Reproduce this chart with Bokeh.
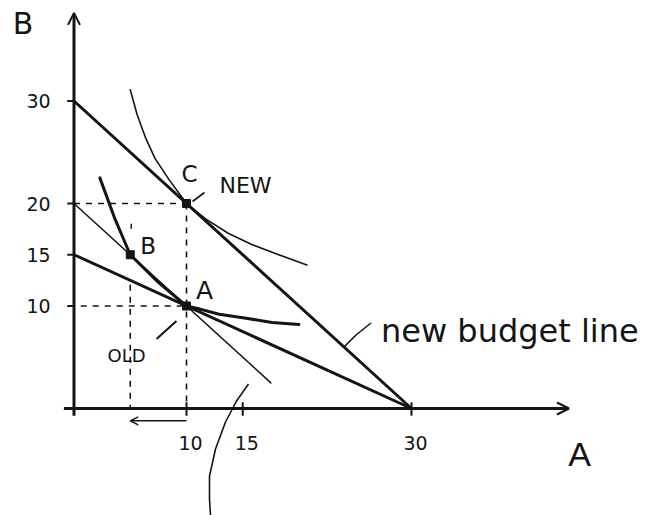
from bokeh.plotting import figure
from bokeh.models import Range1d, Arrow, OpenHead
from bokeh.core.properties import value
from bokeh.embed import file_html
from bokeh.resources import INLINE

# ---- chart values -------------------------------------------------------
x_ticks = [10, 15, 30]
x_tick_labels = ["10", "15", "30"]
y_ticks = [10, 15, 20, 30]
y_tick_labels = ["10", "15", "20", "30"]

# budget lines (end points on the two axes)
old_budget_a = [0, 30]
old_budget_b = [15, 0]
new_budget_a = [0, 30]
new_budget_b = [30, 0]
# compensated budget line through B and A
comp_budget_a = [0, 17.5]
comp_budget_b = [20, 2.5]

# indifference curves
old_ic_a = [2.3, 3.6, 5.0, 7.5, 10.0, 11.2, 12.9, 15.3, 17.6, 20.0]
old_ic_b = [22.5, 18.6, 15.0, 12.3, 10.0, 9.7, 9.2, 8.8, 8.4, 8.2]
new_ic_a = [5.0, 5.6, 6.4, 7.2, 8.4, 10.0, 11.7, 13.7, 15.8, 18.2, 20.7]
new_ic_b = [31.1, 28.7, 26.3, 24.4, 22.4, 20.0, 18.5, 17.1, 16.0, 15.0, 14.0]

# consumption bundles
bundle_names = ["C", "B", "A"]
bundle_a = [10, 5, 10]
bundle_b = [20, 15, 10]

# ---- layout ---------------------------------------------------------------
W, H = 646, 515
XS, YS = 11.25, 10.25        # pixels per unit of A and of B
X0, Y0 = 73.5, 408.0         # pixel position of the origin
INK = "#141414"


def nudge(a, b, dx, dy):
    """Move a data point by a screen offset in pixels (dy positive = up)."""
    return a + dx / XS, b + dy / YS


p = figure(width=W, height=H, title=None,
           x_range=Range1d(-X0 / XS, (W - X0) / XS),
           y_range=Range1d(-(H - Y0) / YS, Y0 / YS),
           x_axis_location=None, y_axis_location=None,
           toolbar_location=None, output_backend="svg", min_border=0)
p.outline_line_color = None
p.xgrid.grid_line_color = None
p.ygrid.grid_line_color = None
p.background_fill_color = "white"
p.border_fill_color = "white"

# axes with arrow heads
p.add_layout(Arrow(end=OpenHead(size=12, line_width=2, line_color=INK),
                   x_start=0, y_start=-0.7, x_end=0, y_end=38.6,
                   line_width=3, line_color=INK))
p.add_layout(Arrow(end=OpenHead(size=12, line_width=2, line_color=INK),
                   x_start=-0.9, y_start=0, x_end=44.0, y_end=0,
                   line_width=3, line_color=INK))

# tick marks
p.segment(x0=[-0.6] * len(y_ticks), y0=y_ticks, x1=[0.1] * len(y_ticks), y1=y_ticks,
          line_width=2, line_color=INK)
p.segment(x0=x_ticks, y0=[-0.7] * len(x_ticks), x1=x_ticks, y1=[0.6] * len(x_ticks),
          line_width=2, line_color=INK)

# tick labels
tick_font = value("DejaVu Sans")
p.text(x=[-35.5 / XS] * len(y_ticks), y=y_ticks, text=y_tick_labels,
       text_font=tick_font, text_font_size="19px", text_color=INK,
       text_align="center", text_baseline="middle")
p.text(x=[t + 4 / XS for t in x_ticks], y=[-34 / YS] * len(x_ticks), text=x_tick_labels,
       text_font=tick_font, text_font_size="19px", text_color=INK,
       text_align="center", text_baseline="middle")

# axis names
p.text(x=[-51 / XS], y=[(Y0 - 23) / YS], text=["B"], text_font=value("DejaVu Sans"),
       text_font_size="30px", text_color=INK, text_align="center", text_baseline="middle")
p.text(x=[(579 - X0) / XS], y=[-(453 - Y0) / YS], text=["A"],
       text_font=value("Liberation Sans"), text_font_size="34px", text_color=INK,
       text_align="center", text_baseline="middle")

# guide lines from the bundles to the axes
dash = dict(line_width=1.6, line_color=INK, line_dash="6 6")
p.line([0, bundle_a[0]], [bundle_b[0], bundle_b[0]], **dash)
p.line([bundle_a[0], bundle_a[0]], [bundle_b[0], 0], **dash)
p.line([0.6, bundle_a[2]], [bundle_b[2], bundle_b[2]], **dash)
p.line([bundle_a[1], bundle_a[1]], [nudge(0, bundle_b[1], 0, -30)[1], 0], **dash)

# budget lines
p.line(new_budget_a, new_budget_b, line_width=3, line_color=INK, line_cap="round")
p.line(old_budget_a, old_budget_b, line_width=3, line_color=INK, line_cap="round")
p.line(comp_budget_a, comp_budget_b, line_width=1.5, line_color=INK, line_cap="round")

# indifference curves
p.line(old_ic_a, old_ic_b, line_width=3, line_color=INK, line_join="round", line_cap="round")
p.line(new_ic_a, new_ic_b, line_width=1.6, line_color=INK, line_join="round", line_cap="round")

# bundles
p.scatter(bundle_a, bundle_b, marker="square", size=8, color=INK)

# bundle letters, offset in pixels from each point
letter_offsets = {"C": (3, 30, "23px"), "B": (18, 9, "23px"), "A": (18, 16, "25px")}
for name, a, b in zip(bundle_names, bundle_a, bundle_b):
    dx, dy, size = letter_offsets[name]
    la, lb = nudge(a, b, dx, dy)
    p.text(x=[la], y=[lb], text=[name], text_font=value("DejaVu Sans"),
           text_font_size=size, text_color=INK, text_align="center",
           text_baseline="middle")

# "NEW" note at C
ca, cb = bundle_a[0], bundle_b[0]
na, nb = nudge(ca, cb, 33, 18)
p.text(x=[na], y=[nb], text=["NEW"], text_font=value("DejaVu Sans"),
       text_font_size="22px", text_color=INK, text_align="left", text_baseline="middle")
s0, s1 = nudge(ca, cb, 18, 11), nudge(ca, cb, 6, 2)
p.line([s0[0], s1[0]], [s0[1], s1[1]], line_width=1.6, line_color=INK)

# "OLD" note at A
aa, ab = bundle_a[2], bundle_b[2]
oa, ob = nudge(aa, ab, -60, -49)
p.text(x=[oa], y=[ob], text=["OLD"], text_font=value("DejaVu Sans"),
       text_font_size="18px", text_color=INK, text_align="center", text_baseline="middle")
s0, s1 = nudge(aa, ab, -30, -33), nudge(aa, ab, -10, -15)
p.line([s0[0], s1[0]], [s0[1], s1[1]], line_width=2, line_color=INK)

# arrow showing the move from A to B along the A axis
p.add_layout(Arrow(end=OpenHead(size=8, line_width=1.5, line_color=INK),
                   x_start=bundle_a[2], y_start=-1.2, x_end=bundle_a[1], y_end=-1.2,
                   line_width=1.6, line_color=INK))

# small mark above B
m0, m1 = nudge(bundle_a[1], bundle_b[1], 1, 26), nudge(bundle_a[1], bundle_b[1], 1, 31)
p.line([m0[0], m1[0]], [m0[1], m1[1]], line_width=1.5, line_color=INK)

# "new budget line" note with its pointer
ga = 24.0
gb = 30 - ga
pa, pb = zip(*[nudge(ga, gb, dx, dy) for dx, dy in [(0, 0), (12, 12), (27, 24)]])
p.line(list(pa), list(pb), line_width=1.6, line_color=INK)
ta, tb = nudge(ga, gb, 37, 16)
p.text(x=[ta], y=[tb], text=["new budget line"], text_font=value("DejaVu Sans"),
       text_font_size="32px", text_color=INK, text_align="left",
       text_baseline="alphabetic")

# pointer running off the bottom edge towards the compensated line
hook = [(62, -78), (50, -95), (39, -116), (29, -143), (23, -170), (23, -193), (25, -225)]
ha, hb = zip(*[nudge(aa, ab, dx, dy) for dx, dy in hook])
p.line(list(ha), list(hb), line_width=1.6, line_color=INK, line_join="round")

open("out.html", "w").write(file_html(p, INLINE))
